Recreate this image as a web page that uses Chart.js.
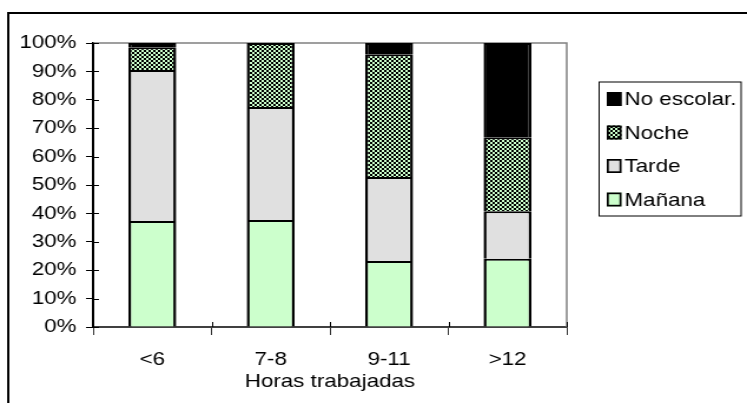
<!DOCTYPE html>
<html>
<head>
<meta charset="utf-8">
<script src="https://cdn.jsdelivr.net/npm/chart.js@4.4.0/dist/chart.umd.min.js"></script>
<style>
  html, body { margin: 0; padding: 0; background: #fff; overflow: hidden; }
  #turnosChart { display: block; }
</style>
</head>
<body>
<!-- the original picture is stretched horizontally, so the canvas is too -->
<canvas id="turnosChart" width="634" height="403" style="width:747px;height:403px"></canvas>
<script>
const categories = ['<6', '7-8', '9-11', '>12'];
const manana = [37.3, 37.7, 23.2, 24.0];
const tarde = [53.2, 39.8, 29.6, 16.8];
const noche = [8.0, 22.5, 43.2, 26.0];
const noEscolar = [1.5, 0, 4.0, 33.2];
const yTicks = [0, 10, 20, 30, 40, 50, 60, 70, 80, 90, 100];

// checkerboard fill for "Noche"
function makeChecker() {
    const c = document.createElement('canvas');
    c.width = 4;
    c.height = 4;
    const g = c.getContext('2d');
    g.fillStyle = '#ccffcc';
    g.fillRect(0, 0, 4, 4);
    g.fillStyle = '#000';
    g.fillRect(0, 0, 2, 2);
    g.fillRect(2, 2, 2, 2);
    return g.createPattern(c, 'repeat');
}
const checker = makeChecker();

const FONT = '"Liberation Sans", Arial, sans-serif';
Chart.defaults.font.family = FONT;
Chart.defaults.font.size = 19;
Chart.defaults.color = '#000';

const segBorder = { top: 2, left: 2.5, right: 2.5, bottom: 0 };

// outer frame, plot border, inner tick stubs and the boxed legend
const framePlugin = {
    id: 'frame',
    beforeDatasetsDraw(chart) {
        const { ctx, chartArea: a } = chart;
        ctx.save();
        ctx.strokeStyle = '#808080';
        ctx.lineWidth = 1.5;
        ctx.beginPath();
        ctx.moveTo(a.left, a.top);
        ctx.lineTo(a.right, a.top);
        ctx.lineTo(a.right, a.bottom);
        ctx.stroke();
        ctx.restore();
    },
    afterDraw(chart) {
        const { ctx, chartArea: a, scales } = chart;
        ctx.save();
        // tick marks cross the axes a little
        ctx.strokeStyle = '#000';
        ctx.lineWidth = 1;
        ctx.beginPath();
        scales.y.ticks.forEach(t => {
            const y = Math.round(scales.y.getPixelForValue(t.value)) + 0.5;
            ctx.moveTo(a.left, y);
            ctx.lineTo(a.left + 5, y);
        });
        for (let i = 0; i <= categories.length; i++) {
            const x = Math.round(a.left + (a.right - a.left) * i / categories.length) + 0.5;
            ctx.moveTo(x, a.bottom);
            ctx.lineTo(x, a.bottom - 5);
        }
        ctx.stroke();

        ctx.lineWidth = 2;
        ctx.beginPath();
        ctx.moveTo(7, 410);
        ctx.lineTo(7, 13);
        ctx.lineTo(640, 13);
        ctx.stroke();

        // legend
        ctx.fillStyle = '#fff';
        ctx.fillRect(508.5, 82, 120.5, 134);
        ctx.lineWidth = 1;
        ctx.strokeRect(508.5, 82, 120.5, 134);
        const ds = chart.data.datasets.slice().reverse();
        ds.forEach((d, i) => {
            const cy = 99 + i * 33.5;
            ctx.fillStyle = d.backgroundColor;
            ctx.fillRect(515, cy - 7, 12.5, 14);
            ctx.lineWidth = 1.7;
            ctx.strokeStyle = '#000';
            ctx.strokeRect(515.85, cy - 6.15, 10.8, 12.3);
            ctx.fillStyle = '#000';
            ctx.font = '19px ' + FONT;
            ctx.textBaseline = 'middle';
            ctx.textAlign = 'left';
            ctx.fillText(d.label, 530, cy + 1);
        });
        ctx.restore();
    }
};

new Chart(document.getElementById('turnosChart'), {
    type: 'bar',
    data: {
        labels: categories,
        datasets: [
            { label: 'Mañana', data: manana, backgroundColor: '#ccffcc' },
            { label: 'Tarde', data: tarde, backgroundColor: '#e0e0e0' },
            { label: 'Noche', data: noche, backgroundColor: checker },
            { label: 'No escolar.', data: noEscolar, backgroundColor: '#000' }
        ]
    },
    options: {
        responsive: false,
        animation: false,
        layout: { padding: { top: 43, right: 153, left: 0, bottom: 0 } },
        datasets: {
            bar: {
                borderColor: '#000',
                borderWidth: segBorder,
                borderSkipped: false,
                categoryPercentage: 1,
                barPercentage: 0.405
            }
        },
        scales: {
            x: {
                stacked: true,
                afterFit: (s) => { s.height = 76; },
                grid: { drawOnChartArea: false, offset: true, tickLength: 8, color: '#333', lineWidth: 1 },
                border: { color: '#404040', width: 2 },
                ticks: { padding: 13, maxRotation: 0 },
                title: { display: true, text: 'Horas trabajadas', padding: { top: 0, bottom: 10 } }
            },
            y: {
                stacked: true,
                min: 0,
                max: 100,
                afterFit: (s) => { s.width = 79; },
                afterBuildTicks: (s) => { s.ticks = yTicks.map(v => ({ value: v })); },
                grid: { drawOnChartArea: false, tickLength: 6, color: '#000' },
                border: { color: '#000', width: 2 },
                ticks: { padding: 8, callback: (v) => v + '%' }
            }
        },
        plugins: {
            legend: { display: false },
            tooltip: { enabled: false }
        }
    },
    plugins: [framePlugin]
});
</script>
</body>
</html>
